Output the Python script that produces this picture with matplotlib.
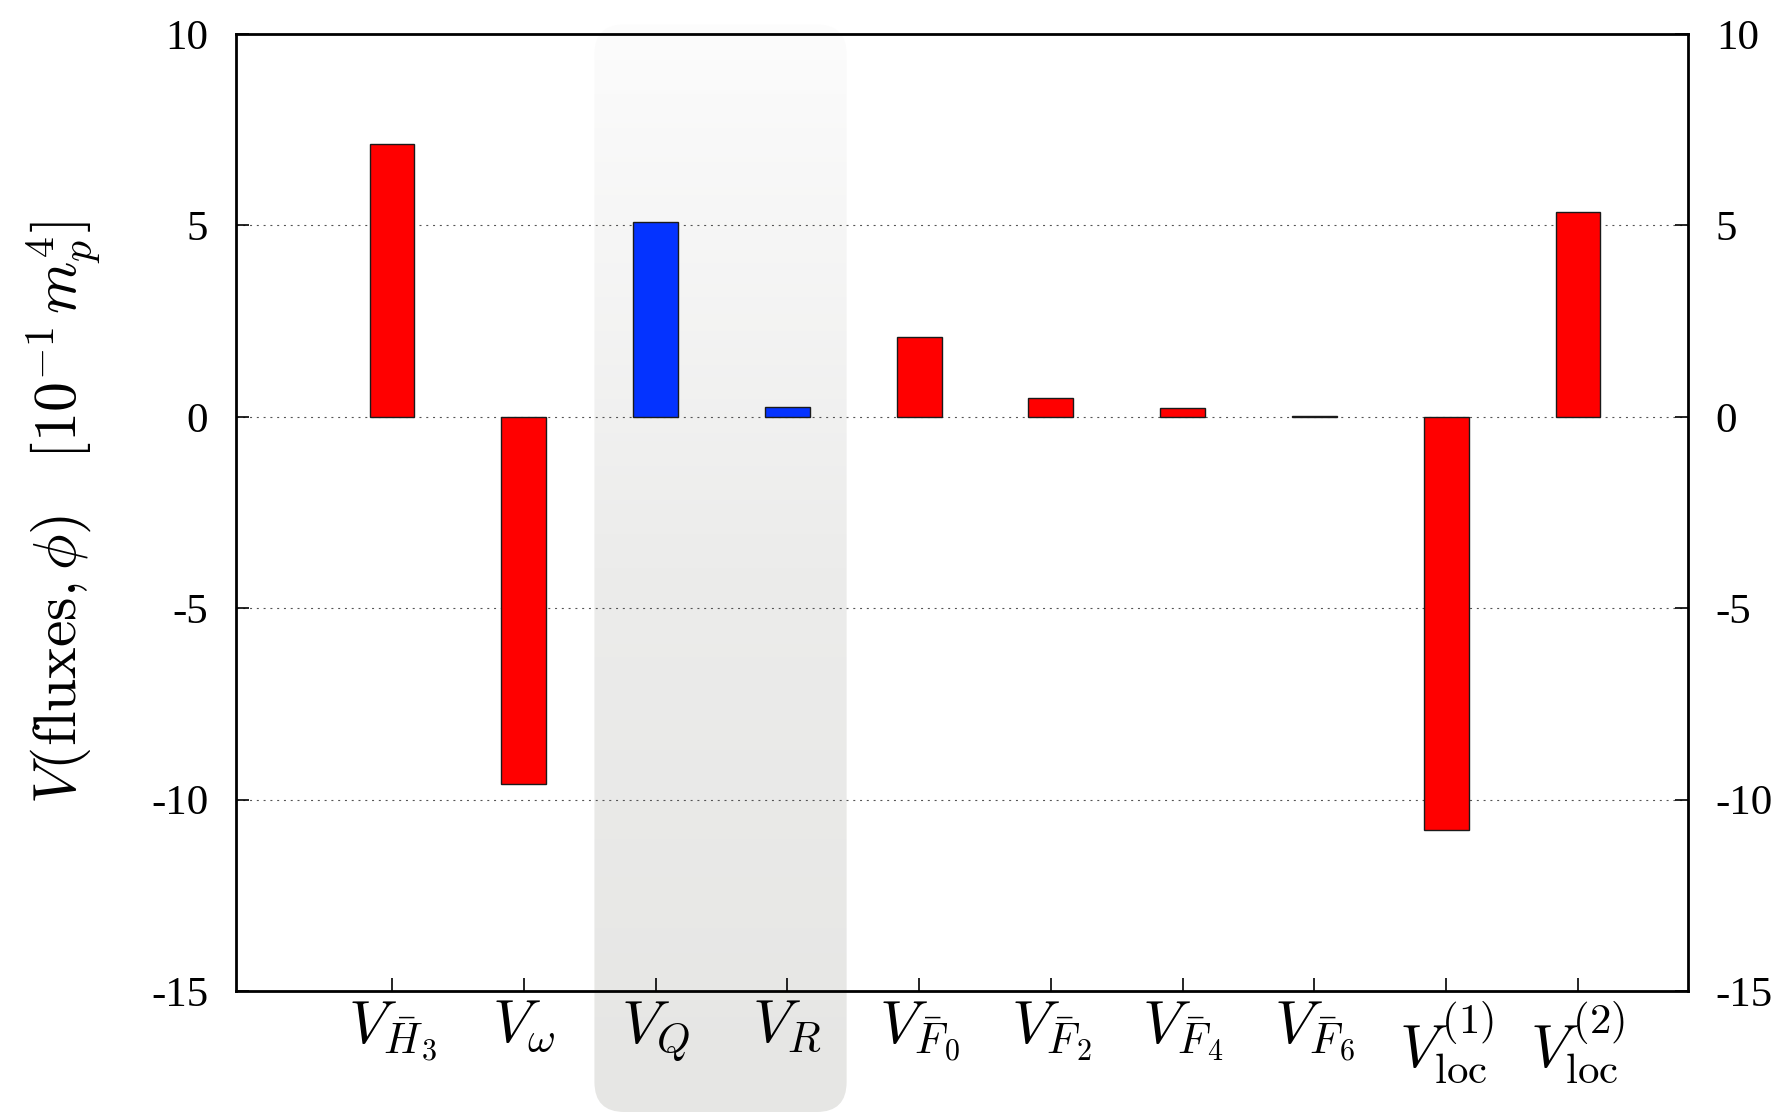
import matplotlib
matplotlib.use('Agg')
import matplotlib.pyplot as plt
import numpy as np
from matplotlib.patches import FancyBboxPatch
from matplotlib.colors import LinearSegmentedColormap

# ---------------- data ----------------
categories = [r'$V_{\bar{H}_3}$', r'$V_{\omega}$', r'$V_Q$', r'$V_R$',
              r'$V_{\bar{F}_0}$', r'$V_{\bar{F}_2}$', r'$V_{\bar{F}_4}$',
              r'$V_{\bar{F}_6}$', r'$V_{\mathrm{loc}}^{(1)}$', r'$V_{\mathrm{loc}}^{(2)}$']
values = [7.12, -9.6, 5.08, 0.26, 2.08, 0.5, 0.22, 0.03, -10.79, 5.35]
bar_colors = ['#ff0000', '#ff0000', '#0433ff', '#0433ff', '#ff0000',
              '#ff0000', '#ff0000', '#ff0000', '#ff0000', '#ff0000']
highlight = [2, 3]
yticks = [-15, -10, -5, 0, 5, 10]
ytick_labels = ['-15', '-10', '-5', '0', '5', '10']
ylabel = r'$V(\mathrm{fluxes},\phi)\quad[10^{-1}\,m_p^4]$'

plt.rcParams['font.family'] = 'serif'
plt.rcParams['font.serif'] = ['Liberation Serif', 'DejaVu Serif']
plt.rcParams['mathtext.fontset'] = 'cm'
plt.rcParams['axes.unicode_minus'] = False

W, H = 1782, 1113
fig = plt.figure(figsize=(W / 100, H / 100), dpi=100)
fig.patch.set_facecolor('white')

ax = fig.add_axes([236 / W, 1 - 991 / H, (1688 - 236) / W, (991 - 34) / H], zorder=2)
ax.set_facecolor('none')

x = np.arange(len(categories))
ax.set_xlim(-1.184, 9.835)
ax.set_ylim(-15, 10)

# gridlines (dotted) at inner ticks
for yv in yticks[1:-1]:
    ax.axhline(yv, color='#555555', lw=0.8, ls=(0, (1.8, 4.3)), zorder=1)

ax.bar(x, values, width=0.34, color=bar_colors, edgecolor='#1a1a1a',
       linewidth=1.0, zorder=3)

ax.set_xticks(x, categories, fontsize=44)
ax.set_yticks(yticks, ytick_labels, fontsize=31)
ax.tick_params(axis='y', direction='in', length=9.5, width=1.2, pad=20,
               left=True, right=True, labelleft=True, labelright=True)
for t in ax.yaxis.get_major_ticks():
    t.label1.set_fontfamily('Liberation Serif')
    t.label2.set_fontfamily('Liberation Serif')
ax.tick_params(axis='x', direction='in', length=9.5, width=1.2, pad=6,
               top=False, bottom=True)
for s in ax.spines.values():
    s.set_linewidth(2.0)

ax.set_ylabel(ylabel, fontsize=43)
ax.yaxis.set_label_coords(-0.092, 0.5)

# ---------------- highlight band (background) ----------------
bg = fig.add_axes([0, 0, 1, 1], zorder=0)
bg.set_xlim(0, W)
bg.set_ylim(0, H)
bg.axis('off')

(px0, py_top) = ax.transData.transform((min(highlight) - 0.464, 10.25))
(px1, _) = ax.transData.transform((max(highlight) + 0.45, 0))
py_bot = 1.0
band = FancyBboxPatch((px0, py_bot), px1 - px0, py_top - py_bot,
                      boxstyle='round,pad=0,rounding_size=30',
                      facecolor='none', edgecolor='none')
bg.add_patch(band)
cmap = LinearSegmentedColormap.from_list('band', ['#fcfcfc', '#ececeb', '#e6e6e4'])
im = bg.imshow(np.linspace(0, 1, 256).reshape(-1, 1), cmap=cmap, aspect='auto',
               extent=[px0, px1, py_bot, py_top], origin='upper',
               interpolation='bilinear')
im.set_clip_path(band)
bg.set_xlim(0, W)
bg.set_ylim(0, H)

fig.savefig('out.png', dpi=100)
